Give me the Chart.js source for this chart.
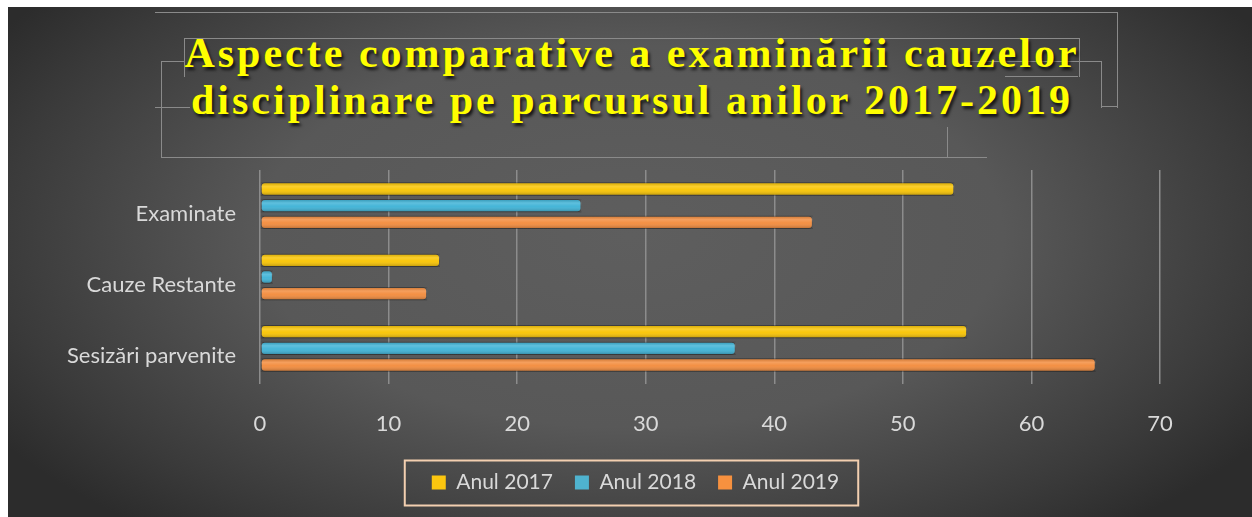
<!DOCTYPE html>
<html>
<head>
<meta charset="utf-8">
<script src="https://cdn.jsdelivr.net/npm/chart.js@4.4.1/dist/chart.umd.min.js"></script>
<style>
  html, body { margin: 0; padding: 0; background: #fff; }
  #wrap { position: relative; width: 1252px; height: 517px; overflow: hidden; }
  #bg {
    position: absolute; left: 8px; top: 7px; right: 0; bottom: 0;
    background: radial-gradient(ellipse 60% 75% at 50% 45%, #5e5e5e 0%, #585858 50%, #3a3a3a 85%, #2c2c2c 100%);
  }
  .ln { position: absolute; border-color: #8a8a8a; border-style: solid; border-width: 0; }
  #title {
    position: absolute; left: 0; width: 1264px; top: 30px;
    text-align: center; color: #ffff00;
    font-family: "Liberation Serif", serif; font-weight: bold;
    font-size: 42px; line-height: 47px; letter-spacing: 3px;
    text-shadow: 2px 3px 3px rgba(0,0,0,0.75);
  }
  canvas { position: absolute; left: 0; top: 0; }
</style>
</head>
<body>
<div id="wrap">
  <div id="bg"></div>
  <!-- decorative frame lines around the title -->
  <div class="ln" style="left:155px;top:12px;width:962px;height:95px;border-top-width:1px;border-right-width:1px;"></div>
  <div class="ln" style="left:1101px;top:106px;width:16px;height:0;border-top-width:1px;"></div>
  <div class="ln" style="left:184px;top:38px;width:894px;height:38px;border-top-width:1px;border-right-width:1px;border-left-width:1px;"></div>
  <div class="ln" style="left:1005px;top:76px;width:73px;height:0;border-top-width:1px;"></div>
  <div class="ln" style="left:966px;top:61px;width:135px;height:46px;border-top-width:1px;border-right-width:1px;"></div>
  <div class="ln" style="left:161px;top:61px;width:23px;height:96px;border-top-width:1px;border-left-width:1px;"></div>
  <div class="ln" style="left:161px;top:157px;width:826px;height:0;border-top-width:1px;"></div>
  <div class="ln" style="left:155px;top:107px;width:35px;height:0;border-top-width:1px;"></div>
  <div class="ln" style="left:947px;top:127px;width:0;height:30px;border-left-width:1px;"></div>
  <div id="title">Aspecte comparative a examinării cauzelor<br>disciplinare pe parcursul anilor 2017-2019</div>
  <canvas id="myChart" width="1252" height="517"></canvas>
</div>
<script>
const categories = ['Examinate', 'Cauze Restante', 'Sesizări parvenite'];
const seriesNames = ['Anul 2017', 'Anul 2018', 'Anul 2019'];
const anul2017 = [54, 14, 55];
const anul2018 = [25, 1, 37];
const anul2019 = [43, 13, 65];
const xTicks = [0, 10, 20, 30, 40, 50, 60, 70];

const barColors = ['#f9c400', '#3cb2d6', '#f38a3a'];
const legendColors = ['#fcc60f', '#4fb3cf', '#f7913f'];

// gives the flat bars a bit of a rounded, tube-like shading
const tubeShade = {
  id: 'tubeShade',
  afterDatasetsDraw(chart) {
    const ctx = chart.ctx;
    chart.data.datasets.forEach((ds, i) => {
      chart.getDatasetMeta(i).data.forEach(bar => {
        const p = bar.getProps(['x', 'y', 'base', 'height'], true);
        const top = p.y - p.height / 2;
        const g = ctx.createLinearGradient(0, top, 0, top + p.height);
        g.addColorStop(0, 'rgba(0,0,0,0.15)');
        g.addColorStop(0.3, 'rgba(255,255,255,0.18)');
        g.addColorStop(0.55, 'rgba(255,255,255,0.05)');
        g.addColorStop(1, 'rgba(0,0,0,0.28)');
        ctx.save();
        ctx.fillStyle = g;
        ctx.fillRect(p.base, top, p.x - p.base, p.height);
        ctx.restore();
      });
    });
  }
};

// legend sits a bit left of the full width centre in the original
const legendShift = {
  id: 'legendShift',
  afterLayout(chart) {
    const lg = chart.legend;
    lg.left = 111;
    lg.right = 1160;
    lg.width = lg.right - lg.left;
    if (lg._adjustHitBoxes) lg._adjustHitBoxes();
  }
};

// peach frame round the legend
const legendFrame = {
  id: 'legendFrame',
  afterDraw(chart) {
    const boxes = chart.legend.legendHitBoxes;
    if (!boxes || !boxes.length) return;
    const first = boxes[0], last = boxes[boxes.length - 1];
    const cy = first.top + first.height / 2;
    const ctx = chart.ctx;
    ctx.save();
    ctx.strokeStyle = '#f3cfb0';
    ctx.lineWidth = 2;
    ctx.strokeRect(first.left - 27, cy - 22, (last.left + last.width) - first.left + 46, 45);
    ctx.restore();
  }
};

const axisFont = { family: 'Lato, "Open Sans", sans-serif', size: 22 };
const legendFont = { family: 'Lato, "Open Sans", sans-serif', size: 21 };

new Chart(document.getElementById('myChart'), {
  type: 'bar',
  data: {
    labels: categories,
    datasets: [anul2017, anul2018, anul2019].map((vals, i) => ({
      label: seriesNames[i],
      data: vals,
      backgroundColor: barColors[i],
      borderColor: 'rgba(0,0,0,0.25)',
      borderWidth: 1,
      borderRadius: 4,
      borderSkipped: false,
      categoryPercentage: 0.7,
      barPercentage: 0.8
    }))
  },
  options: {
    indexAxis: 'y',
    responsive: false,
    animation: false,
    devicePixelRatio: 1,
    layout: { padding: { top: 170, right: 92, left: 0, bottom: 14 } },
    scales: {
      x: {
        min: 0, max: 70,
        afterBuildTicks: s => { s.ticks = xTicks.map(v => ({ value: v })); },
        afterFit: s => { s.height = 66; },
        ticks: { color: '#d9d9d9', font: axisFont, padding: 27 },
        grid: { color: '#8c8c8c', lineWidth: 1.5, drawTicks: false },
        border: { display: false }
      },
      y: {
        afterFit: s => { s.width = 260; },
        ticks: { color: '#d9d9d9', font: axisFont, padding: 24, labelOffset: 8 },
        grid: { display: false, drawTicks: false },
        border: { display: false }
      }
    },
    plugins: {
      legend: {
        position: 'bottom',
        labels: {
          color: '#d9d9d9', font: legendFont,
          boxWidth: 14, boxHeight: 14, padding: 22,
          generateLabels: chart => seriesNames.map((name, i) => ({
            text: name, fillStyle: legendColors[i], strokeStyle: legendColors[i],
            lineWidth: 0, datasetIndex: i, fontColor: '#d9d9d9'
          }))
        }
      },
      title: { display: false },
      tooltip: { enabled: false }
    }
  },
  plugins: [tubeShade, legendShift, legendFrame]
});
</script>
</body>
</html>
